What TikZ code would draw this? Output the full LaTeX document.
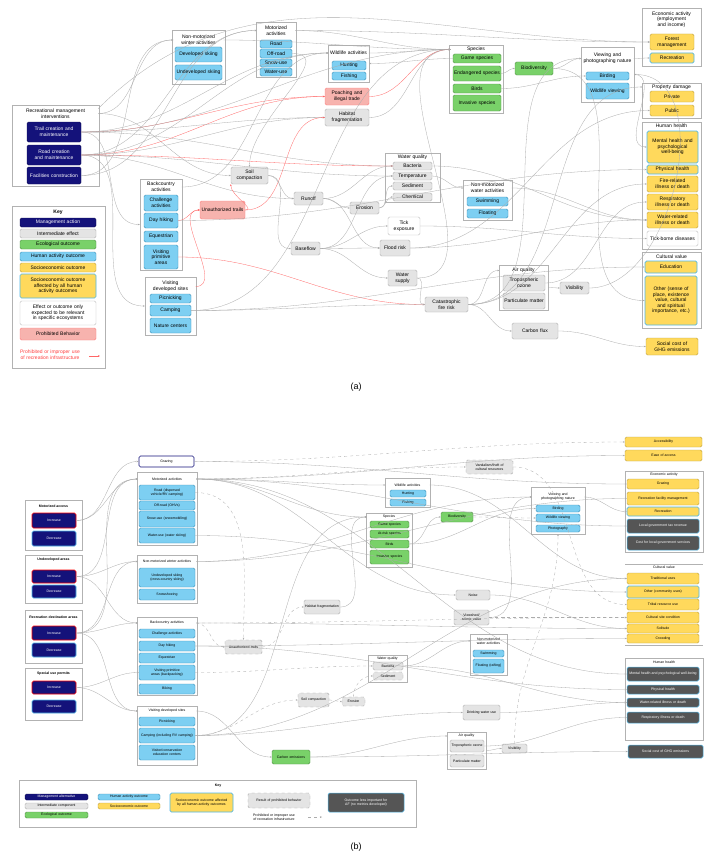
\documentclass[tikz,border=0pt]{standalone}
\usepackage{fontspec}
\setmainfont{Liberation Sans}
\usetikzlibrary{arrows.meta}
\newcommand\fa{\fontsize{5}{5.6}\selectfont\hyphenpenalty=10000\exhyphenpenalty=10000 }
\newcommand\fb{\fontsize{3.5}{4}\selectfont\hyphenpenalty=10000\exhyphenpenalty=10000 }
\definecolor{navy}{HTML}{14127A}
\definecolor{imf}{HTML}{E4E4E4}
\definecolor{ecof}{HTML}{79D169}
\definecolor{humf}{HTML}{7DCFF2}
\definecolor{socf}{HTML}{FFD95C}
\definecolor{prof}{HTML}{F7B3AE}
\definecolor{dkf}{HTML}{555555}
\definecolor{bl}{HTML}{4DB8EA}
\newcommand\bx[7]{\pgfmathsetmacro\mybw{#5-#3}\pgfmathsetmacro\mybh{#6-#4}\pgfmathsetmacro\mytw{max(#5-#3-2,1)}%
\node[#2,minimum width=\mybw pt,minimum height=\mybh pt,text width=\mytw pt] (#1) at ({(#3+#5)/2},{(#4+#6)/2}) {#7};}
\newcommand\ttl[5]{\node[ttl,text width=#4pt] (#1) at (#2,#3) {#5};}
\newcommand\E[3][]{\draw[e,#1] (#2) to[out=0,in=180,#1] (#3);}
\tikzset{
 b/.style={inner sep=0pt,align=center,rounded corners=1.5pt,line width=0.4pt},
 mg/.style={b,fill=navy,draw=navy!70!black,text=white},
 mgi/.style={b,fill=navy,draw=red,line width=0.6pt,text=white},
 mgd/.style={b,fill=navy,draw=bl,line width=0.6pt,text=white},
 im/.style={b,fill=imf,draw=gray!60},
 prb/.style={b,fill=imf,draw=gray!70,dashed},
 eco/.style={b,fill=ecof,draw=ecof!70!black},
 hum/.style={b,fill=humf,draw=bl!80!black},
 soc/.style={b,fill=socf,draw=socf!75!black},
 socb/.style={b,fill=socf,draw=bl,line width=0.7pt},
 pro/.style={b,fill=prof,draw=red!50},
 dk/.style={b,fill=dkf,draw=bl,line width=0.5pt,text=white},
 wht/.style={b,fill=white,draw=gray!50},
 grp/.style={inner sep=0pt,draw=gray!60,fill=white,rounded corners=0pt},
 grz/.style={b,draw=navy,line width=0.6pt,fill=white},
 ttl/.style={inner sep=0pt,align=center},
 e/.style={draw=gray!65,line width=0.3pt,-{Stealth[length=2pt,width=1.6pt]}},
 r/.style={draw=red!60},
 d/.style={dashed}
}
\begin{document}
\begin{tikzpicture}[x=1pt,y=-1pt]
\useasboundingbox[fill=white] (0,0) rectangle (712,859);
% ================= (a) =================
\begin{scope}[every node/.append style={font=\fa}]
\bx{rmg}{grp}{12}{105}{99}{186}{}
\ttl{rm}{55.5}{113.5}{85}{Recreational management interventions}
\bx{trl}{mg}{27}{122}{81}{142}{Trail creation and maintenance}
\bx{rdc}{mg}{27}{145}{81}{165}{Road creation and maintenance}
\bx{fac}{mg}{27}{167}{81}{184}{Facilities construction}
% key a
\bx{kag}{grp}{12}{206}{105}{368}{}
\node[ttl,font=\fa\bfseries] (kat) at (58,212) {Key};
\bx{ka1}{mg}{20}{218}{96}{227}{Management action}
\bx{ka2}{im}{20}{229}{96}{238}{Intermediate effect}
\bx{ka3}{eco}{20}{240}{96}{249}{Ecological outcome}
\bx{ka4}{hum}{20}{252}{96}{261}{Human activity outcome}
\bx{ka5}{soc}{20}{263}{96}{272}{Socioeconomic outcome}
\bx{ka6}{socb}{20}{274}{96}{298}{Socioeconomic outcome affected by all human activity outcomes}
\bx{ka7}{wht}{20}{301}{96}{325}{Effect or outcome only expected to be relevant in specific ecosystems}
\bx{ka8}{pro}{20}{328}{96}{340}{Prohibited Behavior}
\node[ttl,text width=68pt,text=red!75] (ka9) at (50,354.5) {Prohibited or improper use of recreation infrastructure};
\coordinate (ka9a) at (89,356); \coordinate (ka9b) at (100,356);
\draw[e,r] (ka9a) -- (ka9b);
% activities
\bx{mwg}{grp}{172}{30}{225}{84}{}
\ttl{mwT}{198.5}{40}{50}{Non-motorized winter activities}
\bx{dsk}{hum}{175}{47}{222}{62}{Developed skiing}
\bx{usk}{hum}{175}{65}{222}{80}{Undeveloped skiing}
\bx{mog}{grp}{256}{22}{296}{77}{}
\ttl{moT}{276}{30.5}{38}{Motorized activities}
\bx{road}{hum}{260}{40}{292}{48}{Road}
\bx{offr}{hum}{260}{49}{292}{58}{Off-road}
\bx{snow}{hum}{260}{59}{292}{67}{Snow-use}
\bx{wuse}{hum}{260}{68}{292}{76}{Water-use}
\bx{wig}{grp}{328}{45}{369}{82}{}
\ttl{wiT}{348.5}{53}{40}{Wildlife activities}
\bx{hunt}{hum}{332}{61}{366}{70}{Hunting}
\bx{fish}{hum}{332}{72}{366}{80}{Fishing}
\bx{poa}{pro}{325}{88}{369}{105}{Poaching and illegal trade}
\bx{hab}{im}{325}{109}{369}{126}{Habitat fragmentation}
\bx{spg}{grp}{449}{45}{503}{113}{}
\ttl{spT}{476}{49.5}{50}{Species}
\bx{game}{eco}{453}{54}{501}{63}{Game species}
\bx{endg}{eco}{453}{66}{501}{81}{Endangered species}
\bx{bird}{eco}{453}{84}{501}{93}{Birds}
\bx{inv}{eco}{453}{95}{501}{111}{Invasive species}
\bx{bio}{eco}{515}{62}{553}{75}{Biodiversity}
\bx{vwg}{grp}{581}{47}{634}{102}{}
\ttl{vwT}{607.5}{58.5}{52}{Viewing and photographing nature}
\bx{bir}{hum}{586}{72}{629}{80}{Birding}
\bx{wv}{hum}{586}{83}{629}{99}{Wildlife viewing}
\bx{ecg}{grp}{642}{8}{701}{66}{}
\ttl{ecT}{671.5}{19.5}{57}{Economic activity (employment and income)}
\bx{fm}{soc}{650}{34}{694}{50}{Forest management}
\bx{rec}{socb}{650}{53}{694}{63}{Recreation}
\bx{pdg}{grp}{642}{83}{701}{118}{}
\ttl{pdT}{671.5}{87}{58}{Property damage}
\bx{pri}{soc}{650}{91}{694}{102}{Private}
\bx{pub}{soc}{650}{105}{694}{116}{Public}
\bx{hhg}{grp}{642}{122}{701}{249}{}
\ttl{hhT}{671.5}{126}{57}{Human health}
\bx{mh}{socb}{647}{131}{698}{163}{Mental health and psychological well-being}
\bx{ph}{socb}{647}{165}{698}{174}{Physical health}
\bx{fr}{soc}{647}{176}{698}{192}{Fire-related illness or death}
\bx{rs}{soc}{647}{194}{698}{210}{Respiratory illness or death}
\bx{wr}{soc}{647}{212}{698}{228}{Water-related illness or death}
\bx{tb}{wht}{647}{231}{698}{246}{Tick-borne diseases}
\bx{cvg}{grp}{642}{252}{701}{328}{}
\ttl{cvT}{671.5}{256.5}{57}{Cultural value}
\bx{edu}{socb}{645}{261}{697}{273}{Education}
\bx{oth}{socb}{645}{276}{697}{325}{Other (sense of place, existence value, cultural and spiritual importance, etc.)}
\bx{sc}{soc}{646}{338}{698}{355}{Social cost of GHG emissions}
\bx{bcg}{grp}{140}{179}{182}{270}{}
\ttl{bcT}{161}{187}{41}{Backcountry activities}
\bx{cha}{hum}{144}{195}{178}{211}{Challenge activities}
\bx{dh}{hum}{144}{213}{178}{228}{Day hiking}
\bx{eq}{hum}{144}{231}{178}{242}{Equestrian}
\bx{vp}{hum}{144}{245}{178}{269}{Visiting primitive areas}
\bx{vdg}{grp}{145}{277}{196}{335}{}
\ttl{vdT}{170.5}{286.5}{50}{Visiting developed sites}
\bx{pic}{hum}{150}{294}{191}{303}{Picnicking}
\bx{cam}{hum}{150}{305}{191}{316}{Camping}
\bx{nc}{hum}{150}{318}{191}{333}{Nature centers}
\bx{soi}{im}{231}{167}{268}{184}{Soil compaction}
\bx{una}{pro}{200}{201}{245}{219}{Unauthorized trails}
\bx{run}{im}{294}{192}{323}{205}{Runoff}
\bx{ero}{im}{350}{202}{379}{214}{Erosion}
\bx{bas}{im}{291}{242}{320}{255}{Baseflow}
\bx{wqg}{grp}{385}{153}{440}{202}{}
\ttl{wqT}{412.5}{157.5}{54}{Water quality}
\bx{bac}{im}{393}{162}{432}{170}{Bacteria}
\bx{tem}{im}{393}{172}{432}{180}{Temperature}
\bx{sed}{im}{393}{182}{432}{190}{Sediment}
\bx{che}{im}{393}{193}{432}{201}{Chemical}
\bx{tic}{wht}{388}{217}{420}{235}{Tick exposure}
\bx{flo}{im}{380}{240}{410}{256}{Flood risk}
\bx{wsu}{im}{388}{270}{417}{286}{Water supply}
\bx{fir}{im}{425}{297}{468}{312}{Catastrophic fire risk}
\bx{nwg}{grp}{463}{180}{512}{220}{}
\ttl{nwT}{487.5}{188}{48}{Non-motorized water activities}
\bx{swi}{hum}{467}{197}{508}{206}{Swimming}
\bx{flt}{hum}{467}{209}{508}{218}{Floating}
\bx{aqg}{grp}{499}{265}{548}{310}{}
\ttl{aqT}{523.5}{270.5}{48}{Air quality}
\bx{tro}{im}{503}{275}{545}{291}{Tropospheric ozone}
\bx{pmx}{im}{503}{293}{545}{309}{Particulate matter}
\bx{vis}{im}{560}{282}{589}{294}{Visibility}
\bx{cfl}{im}{512}{323}{558}{339}{Carbon flux}
\end{scope}
\node[font=\fontsize{9}{10}\selectfont] (la) at (356,387) {(a)};
% edges (a)
\E{rm.east}{mwT.west}
\E{rm.east}{soi.west}
\draw[e] (rm.north east) to[out=45,in=180] (fm.west);
\E[r]{trl.east}{poa.west}
\E[r]{rdc.east}{poa.west}
\E{trl.east}{hab.west}
\E{rdc.east}{hab.west}
\E{trl.east}{wiT.west}
\E{rdc.east}{wiT.west}
\E{rdc.east}{moT.west}
\E{fac.east}{mwT.west}
\E{fac.east}{moT.west}
\E{trl.east}{bcg.west}
\E{rdc.east}{vdg.west}
\E{trl.east}{bac.west}
\E[r]{rdc.east}{bac.west}
\E{rdc.east}{tem.west}
\E{trl.east}{spT.west}
\E{rdc.east}{run.west}
\E[r]{dh.east}{una.west}
\E[r]{vdT.east}{una.west}
\E[r]{una.east}{hab.west}
\draw[e,r] (una.east) to[out=0,in=270] (soi.south west);
\draw[e] (offr.east) to[out=0,in=90] (soi.north);
\E{bcT.east}{wiT.west}
\E{soi.east}{run.west}
\E{soi.east}{bas.west}
\E{run.east}{ero.west}
\E{run.east}{bac.west}
\E{run.east}{flo.west}
\E{ero.east}{sed.west}
\E{ero.east}{che.west}
\E{bas.east}{flo.west}
\E{bas.east}{wsu.west}
\E{bas.east}{tem.west}
\E{bas.east}{tic.west}
\E[r]{vp.east}{fir.west}
\E{cam.east}{fir.west}
\E{cam.east}{spT.west}
\E{wsu.east}{fir.west}
\E{fir.east}{aqT.west}
\E{fir.east}{cfl.west}
\E{fir.east}{vwT.west}
\E{fir.east}{pdT.west}
\E{fir.east}{fr.west}
\E{wsu.east}{spT.west}
\E{flo.east}{pub.west}
\E{flo.east}{wr.west}
\E{tic.east}{tb.west}
\E{tem.east}{nwT.west}
\E{bac.east}{wr.west}
\E{nwT.east}{wr.west}
\E{aqg.east}{vis.west}
\E{tro.east}{rs.west}
\draw[e] (vis.east) to[out=0,in=0] (vwg.east);
\E{cfl.east}{sc.west}
\E[r]{poa.east}{spT.west}
\E{hab.east}{spT.west}
\E{wiT.east}{spT.west}
\draw[e] (game.west) to[out=180,in=0] (wig.east);
\E{endg.east}{bio.west}
\E{bio.east}{vwT.west}
\E{bird.east}{bir.west}
\E{bio.east}{oth.west}
\E{moT.east}{spT.west}
\E{mwT.east}{spT.west}
\E{moT.east}{fm.west}
\E{vwg.east}{mh.west}
\E{dh.east}{ph.west}
\E{vwT.east}{rec.west}
\E{cam.east}{edu.west}
% ================= (b) =================
\begin{scope}[every node/.append style={font=\fb}]
\bx{mag}{grp}{25}{500}{82}{550}{}
\node[ttl,font=\fb\bfseries] (maT) at (53.5,506) {Motorized access};
\bx{mai}{mgi}{32}{513}{76}{528}{Increase}
\bx{mad}{mgd}{32}{531}{76}{546}{Decrease}
\bx{uag}{grp}{25}{555}{82}{603}{}
\node[ttl,font=\fb\bfseries] (uaT) at (53.5,560) {Undeveloped areas};
\bx{uai}{mgi}{32}{570}{76}{583}{Increase}
\bx{uad}{mgd}{32}{585}{76}{598}{Decrease}
\bx{rdg}{grp}{25}{610}{82}{663}{}
\node[ttl,font=\fb\bfseries,text width=55pt] (rdT) at (53.5,617) {Recreation destination areas};
\bx{rdi}{mgi}{32}{626}{76}{640}{Increase}
\bx{rdd}{mgd}{32}{643}{76}{657}{Decrease}
\bx{sug}{grp}{25}{668}{82}{720}{}
\node[ttl,font=\fb\bfseries] (suT) at (53.5,674) {Special use permits};
\bx{sui}{mgi}{32}{681}{76}{694}{Increase}
\bx{sud}{mgd}{32}{700}{76}{713}{Decrease}
\bx{gra}{grz}{139}{456}{194}{467}{Grazing}
\bx{mo2}{grp}{137}{472}{197}{545}{}
\ttl{moT2}{167}{479}{58}{Motorized activities}
\bx{rdv}{hum}{139}{485}{195}{500}{Road (dispersed vehicle/RV camping)}
\bx{ohv}{hum}{139}{501}{195}{510}{Off-road (OHVs)}
\bx{snm}{hum}{139}{511}{195}{527}{Snow-use (snowmobiling)}
\bx{wsk}{hum}{139}{528}{195}{543}{Water-use (water skiing)}
\bx{nm2}{grp}{137}{555}{197}{603}{}
\ttl{nmT2}{167}{561.5}{58}{Non-motorized winter activities}
\bx{ucs}{hum}{139}{568}{195}{587}{Undeveloped skiing (cross-country skiing)}
\bx{ssh}{hum}{139}{589}{195}{600}{Snowshoeing}
\bx{bc2}{grp}{137}{617}{197}{695}{}
\ttl{bcT2}{167}{623}{58}{Backcountry activities}
\bx{ch2}{hum}{139}{629}{195}{638}{Challenge activities}
\bx{dh2}{hum}{139}{641}{195}{651}{Day hiking}
\bx{eq2}{hum}{139}{653}{195}{663}{Equestrian}
\bx{vp2}{hum}{139}{665}{195}{680}{Visiting primitive areas (backpacking)}
\bx{bik}{hum}{139}{684}{195}{694}{Biking}
\bx{vd2}{grp}{137}{706}{197}{765}{}
\ttl{vdT2}{167}{711}{58}{Visiting developed sites}
\bx{pi2}{hum}{139}{717}{195}{726}{Picnicking}
\bx{ca2}{hum}{139}{728}{195}{743}{Camping (including RV camping)}
\bx{vc2}{hum}{139}{745}{195}{760}{Visitor/conservation education centers}
\bx{un2}{prb}{225}{640}{262}{654}{Unauthorized trails}
\bx{hf2}{im}{304}{600}{340}{614}{Habitat fragmentation}
\bx{sc2}{prb}{298}{693}{329}{707}{Soil compaction}
\bx{er2}{prb}{342}{697}{365}{706}{Erosion}
\bx{ce2}{eco}{272}{750}{310}{764}{Carbon emissions}
\bx{wa2}{grp}{385}{478}{430}{507}{}
\ttl{waT2}{407.5}{485}{44}{Wildlife activities}
\bx{hu2}{hum}{390}{490}{426}{497}{Hunting}
\bx{fi2}{hum}{390}{499}{426}{506}{Fishing}
\bx{sp2}{grp}{366}{513}{412}{567}{}
\ttl{spT2}{389}{517}{44}{Species}
\bx{gs2}{eco}{370}{521}{409}{528}{Game species}
\bx{ar2}{eco}{370}{530}{409}{538}{At-risk species}
\bx{bi2}{eco}{370}{540}{409}{548}{Birds}
\bx{is2}{eco}{370}{550}{409}{564}{Invasive species}
\bx{bd2}{eco}{441}{512}{473}{522}{Biodiversity}
\bx{vw2}{grp}{531}{487}{585}{534}{}
\ttl{vwT2}{558}{497}{52}{Viewing and photographing nature}
\bx{br2}{hum}{536}{505}{580}{512}{Birding}
\bx{wv2}{hum}{536}{514}{580}{522}{Wildlife viewing}
\bx{ph2}{hum}{536}{525}{580}{532}{Photography}
\bx{van}{prb}{466}{460}{513}{474}{Vandalism/theft of cultural resources}
\bx{noi}{im}{456}{590}{490}{600}{Noise}
\bx{vsh}{im}{454}{610}{489}{625}{Viewshed/ scenic value}
\bx{nw2}{grp}{470}{634}{507}{675}{}
\ttl{nwT2}{488.5}{641}{36}{Non-motorized water activities}
\bx{sw2}{hum}{473}{650}{504}{657}{Swimming}
\bx{fl2}{hum}{473}{659}{504}{673}{Floating (rafting)}
\bx{wq2}{grp}{368}{655}{407}{682}{}
\ttl{wqT2}{387.5}{658.5}{38}{Water quality}
\bx{ba2}{im}{373}{662}{403}{670}{Bacteria}
\bx{se2}{prb}{373}{672}{403}{680}{Sediment}
\bx{dw2}{im}{463}{705}{500}{720}{Drinking water use}
\bx{aq2}{grp}{447}{732}{486}{769}{}
\ttl{aqT2}{466.5}{736}{38}{Air quality}
\bx{to2}{im}{450}{740}{484}{752}{Tropospheric ozone}
\bx{pm2}{im}{450}{755}{484}{767}{Particulate matter}
\bx{vi2}{im}{502}{744}{527}{753}{Visibility}
\bx{acc}{soc}{625}{437}{702}{447}{Accessibility}
\bx{eoa}{soc}{625}{450}{702}{461}{Ease of access}
\bx{ec2}{grp}{625}{471}{703}{552}{}
\ttl{ecT2}{664}{474.5}{76}{Economic activity}
\bx{gz2}{soc}{627}{479}{699}{489}{Grazing}
\bx{rfm}{soc}{627}{492}{699}{505}{Recreation facility management}
\bx{re2}{socb}{627}{507}{699}{516}{Recreation}
\bx{lgt}{dk}{627}{519}{699}{533}{Local government tax revenue}
\bx{clg}{dk}{627}{536}{699}{550}{Cost for local government services}
\coordinate (cvl1) at (625,564); \coordinate (cvl2) at (703,564);
\coordinate (cvl3) at (625,645); \coordinate (cvl4) at (703,645);
\draw[gray!60,line width=0.4pt] (cvl1) -- (cvl2) (cvl3) -- (cvl4);
\ttl{cvT2}{664}{567.5}{76}{Cultural value}
\bx{tu}{soc}{627}{573}{699}{584}{Traditional uses}
\bx{ocu}{socb}{627}{586}{699}{598}{Other (community uses)}
\bx{tru}{soc}{627}{599}{699}{610}{Tribal resource use}
\bx{csc}{soc}{627}{612}{699}{623}{Cultural site condition}
\bx{sol}{soc}{627}{624}{699}{633}{Solitude}
\bx{cro}{soc}{627}{634}{699}{643}{Crowding}
\bx{hh2}{grp}{625}{658}{703}{740}{}
\ttl{hhT2}{664}{662.5}{76}{Human health}
\bx{mh2}{dk}{627}{667}{699}{681}{Mental health and psychological well-being}
\bx{phh}{dk}{627}{685}{699}{694}{Physical health}
\bx{wr2}{dk}{627}{698}{699}{707}{Water-related illness or death}
\bx{rs2}{dk}{627}{712}{699}{723}{Respiratory illness or death}
\bx{sc3}{dk}{628}{745}{703}{758}{Social cost of GHG emissions}
% key b
\bx{kbg}{grp}{19}{780}{416}{827}{}
\node[ttl,font=\fb\bfseries] (kbt) at (218,786) {Key};
\bx{kb1}{mg}{25}{794}{88}{800}{Management alternative}
\bx{kb2}{im}{25}{803}{88}{809}{Intermediate component}
\bx{kb3}{eco}{25}{812}{88}{818}{Ecological outcome}
\bx{kb4}{hum}{98}{794}{160}{800}{Human activity outcome}
\bx{kb5}{soc}{98}{803}{160}{809}{Socioeconomic outcome}
\bx{kb6}{socb}{170}{793}{233}{812}{Socioeconomic outcome affected by all human activity outcomes}
\bx{kb7}{prb}{248}{793}{310}{808}{Result of prohibited behavior}
\node[ttl,text width=64pt] (kb8) at (274,817) {Prohibited or improper use of recreation infrastructure};
\coordinate (kb8a) at (308,817); \coordinate (kb8b) at (322,817);
\draw[e,d] (kb8a) -- (kb8b);
\bx{kb9}{dk}{328}{793}{404}{812}{Outcome less important for AF (no metrics developed)}
\end{scope}
\node[font=\fontsize{9}{10}\selectfont] (lb) at (356,847) {(b)};
% edges (b)
\E{mai.east}{moT2.west}
\E{mai.east}{gra.west}
\E{uai.east}{nmT2.west}
\E{uai.east}{moT2.west}
\E{uai.east}{bcT2.west}
\E{rdi.east}{bcT2.west}
\E{rdi.east}{vdT2.west}
\E{rdi.east}{moT2.west}
\E{rdi.east}{nmT2.west}
\E{sui.east}{vdT2.west}
\E{sui.east}{vp2.west}
\E{gra.east}{gz2.west}
\E[d]{gra.east}{acc.west}
\E{moT2.east}{eoa.west}
\E{moT2.east}{waT2.west}
\E{moT2.east}{spT2.west}
\E{moT2.east}{noi.west}
\E{moT2.east}{lgt.west}
\E{moT2.east}{mh2.west}
\E[d]{moT2.east}{van.west}
\draw[e,d] (rdv.east) to[out=0,in=90] (un2.north);
\E{nmT2.east}{vwT2.west}
\E{nmT2.east}{rfm.west}
\E[d]{bcT2.east}{csc.west}
\E{bcT2.east}{sol.west}
\E[d]{bcT2.east}{un2.west}
\E[d]{un2.east}{hf2.west}
\E{hf2.east}{spT2.west}
\E[d]{vp2.east}{ba2.west}
\E{ca2.east}{spT2.west}
\E{ca2.east}{tu.west}
\E[d]{ca2.east}{sc2.west}
\E[d]{sc2.east}{er2.west}
\draw[e,d] (er2.north) to[out=90,in=180] (se2.west);
\E{vdT2.east}{ce2.west}
\E{ce2.east}{sc3.west}
\E{ce2.east}{aqT2.west}
\E{waT2.east}{tu.west}
\E{bi2.east}{bd2.west}
\E[d]{bd2.east}{wv2.west}
\E{bi2.east}{br2.west}
\E{vwT2.east}{re2.west}
\E{noi.east}{sol.west}
\E[d]{vsh.east}{csc.west}
\E{vsh.east}{vwT2.west}
\E{ba2.east}{nwT2.west}
\E{ba2.east}{wr2.west}
\E{dw2.east}{wr2.west}
\E{aq2.east}{vi2.west}
\E{to2.east}{rs2.west}
\draw[e,d] (vi2.north) to[out=90,in=270] (vw2.south);
\draw[e,d] (van.east) to[out=0,in=180] (tru.west);
\E{dh2.east}{phh.west}
\E{dh2.east}{cro.west}
\E{wsk.east}{ocu.west}
\E{ca2.east}{dw2.west}
\end{tikzpicture}
\end{document}
